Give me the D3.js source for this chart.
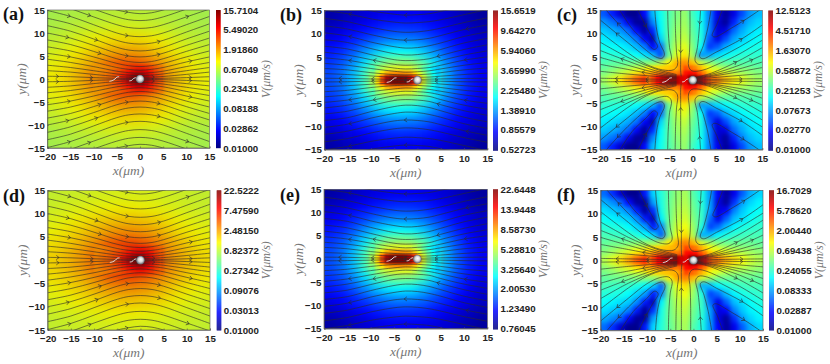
<!DOCTYPE html>
<html lang="en">
<head>
<meta charset="utf-8">
<title>Flow speed maps</title>
<script src="https://d3js.org/d3.v7.min.js"></script>
<style>
body { margin: 0; background: #fff; }
.tick text, .cbar text { font-family: "Liberation Sans", sans-serif; font-weight: bold; font-size: 9.7px; fill: #222; }
.unit { font-family: "Liberation Serif", serif; font-style: italic; font-size: 13.5px; fill: #777; }
.unit.v { font-size: 12px; }
.tag { font-family: "Liberation Serif", serif; font-weight: bold; font-size: 18px; fill: #111; }
</style>
</head>
<body>
<script>
// Tick labels
var xTicks = [-20, -15, -10, -5, 0, 5, 10, 15];
var yTicks = [-15, -10, -5, 0, 5, 10, 15];
var cbarA = ["15.7104", "5.49020", "1.91860", "0.67049", "0.23431", "0.08188", "0.02862", "0.01000"];
var cbarB = ["15.6519", "9.64270", "5.94060", "3.65990", "2.25480", "1.38910", "0.85579", "0.52723"];
var cbarC = ["12.5123", "4.51710", "1.63070", "0.58872", "0.21253", "0.07673", "0.02770", "0.01000"];
var cbarD = ["22.5222", "7.47590", "2.48150", "0.82372", "0.27342", "0.09076", "0.03013", "0.01000"];
var cbarE = ["22.6448", "13.9448", "8.58730", "5.28810", "3.25640", "2.00530", "1.23490", "0.76045"];
var cbarF = ["16.7029", "5.78620", "2.00440", "0.69438", "0.24055", "0.08333", "0.02887", "0.01000"];

// Cell centres of the speed maps (upper half, the maps are symmetric about y = 0)
var gridXs = [-18.75, -16.25, -13.75, -11.25, -8.75, -6.25, -3.75, -1.25, 1.25, 3.75, 6.25, 8.75, 11.25, 13.75];
var gridYs = [13.75, 11.25, 8.75, 6.25, 3.75, 1.25];
var fineXs = [-19.125, -17.375, -15.625, -13.875, -12.125, -10.375, -8.625, -6.875, -5.125, -3.375, -1.625, 0.125, 1.875, 3.625, 5.375, 7.125, 8.875, 10.625, 12.375, 14.125];
var fineYs = [14.125, 12.375, 10.625, 8.875, 7.125, 5.375, 3.625, 1.875, 0.125];
var coreXs = [-9.5, -8.5, -7.5, -6.5, -5.5, -4.5, -3.5, -2.5, -1.5, -0.5, 0.5, 1.5, 2.5, 3.5, 4.5];
var coreYs = [2.5, 1.5, 0.5];

// Speed V
var gridA = [
  [.56, .58, .6, .62, .64, .66, .67, .67, .66, .64, .62, .6, .58, .56],
  [.6, .64, .68, .72, .76, .8, .82, .82, .78, .75, .7, .65, .62, .59],
  [.68, .74, .82, .92, 1.02, 1.12, 1.16, 1.16, 1.1, 1.0, .88, .78, .7, .66],
  [.78, .88, 1.0, 1.18, 1.4, 1.6, 1.75, 1.75, 1.6, 1.35, 1.1, .92, .82, .74],
  [.92, 1.04, 1.25, 1.55, 2.0, 2.6, 3.0, 3.0, 2.6, 2.0, 1.5, 1.2, .98, .85],
  [1.02, 1.2, 1.5, 1.95, 2.7, 3.9, 6.5, 7.5, 4.6, 2.8, 1.9, 1.4, 1.12, .95]
];
var coreA = [
  [1.9, 2, 2.2, 2.4, 2.6, 2.9, 3.4, 3.9, 4.4, 4.8, 4.8, 4.3, 3.7, 3, 2.5],
  [2, 2.2, 2.4, 2.7, 3.1, 3.6, 4.4, 5.4, 7, 8, 8, 6.5, 5, 3.7, 2.9],
  [2.1, 2.3, 2.6, 2.9, 3.4, 4.2, 5.4, 8, 12, 15, 15, 9.5, 6, 4.1, 3.2]
];
var gridB = [
  [.6, .63, .66, .70, .74, .77, .78, .78, .76, .73, .69, .65, .61, .58],
  [.66, .70, .75, .81, .87, .92, .94, .93, .9, .84, .77, .71, .66, .62],
  [.75, .80, .88, .98, 1.1, 1.2, 1.24, 1.22, 1.14, 1.0, .89, .79, .72, .67],
  [.85, .92, 1.05, 1.27, 1.55, 1.78, 1.85, 1.8, 1.55, 1.26, 1.03, .88, .77, .7],
  [.95, 1.05, 1.28, 1.7, 2.4, 2.9, 3.05, 2.95, 2.4, 1.7, 1.25, 1, .84, .74],
  [1.02, 1.15, 1.5, 2.3, 3.9, 5.8, 6.3, 5.8, 4.2, 2.4, 1.45, 1.07, .88, .78]
];
var coreB = [
  [2.3, 2.9, 3.3, 3.6, 3.8, 3.9, 3.9, 3.9, 3.8, 3.4, 2.9, 2.4, 2, 1.7, 1.5],
  [2.8, 3.7, 4.7, 5.7, 6.2, 6.4, 6.4, 6.2, 5.9, 4.9, 3.9, 3.1, 2.4, 1.9, 1.6],
  [3.3, 4.9, 8, 13, 15, 15.5, 15.5, 15, 13, 9.5, 5.5, 3.7, 2.7, 2.1, 1.7]
];
var gridC = [
  [.045, .03, .018, .011, .011, .025, .09, .16, .25, .35, .42, .22, .15, .06, .022, .012, .02, .04, .07, .09],
  [.07, .055, .04, .022, .012, .012, .06, .15, .26, .38, .45, .25, .16, .06, .018, .012, .03, .06, .09, .11],
  [.1, .085, .07, .05, .025, .012, .03, .14, .27, .42, .5, .27, .17, .06, .018, .02, .05, .08, .11, .13],
  [.13, .115, .1, .08, .055, .025, .014, .11, .28, .46, .58, .3, .18, .045, .02, .04, .075, .1, .13, .15],
  [.16, .15, .14, .12, .09, .06, .025, .05, .3, .55, .72, .35, .15, .035, .045, .08, .11, .14, .16, .17],
  [.2, .19, .18, .17, .15, .12, .09, .04, .3, .7, 1.0, .42, .07, .08, .11, .14, .17, .19, .2, .2],
  [.25, .27, .28, .3, .33, .36, .38, .5, .9, 1.5, 2, 1.3, .6, .42, .32, .28, .27, .26, .26, .25],
  [.32, .38, .48, .6, .78, 1.0, 1.25, 1.5, 1.7, 2, 2.5, 3, 1.9, 1.05, .75, .6, .48, .42, .38, .34],
  [.45, .65, 1.0, 1.6, 2.8, 4.2, 7, 9, 9, 7, 6, 12, 9, 4, 2.2, 1.4, 1, .75, .55, .45]
];
var coreC = [
  [.85, .95, 1.05, 1.15, 1.2, 1.3, 1.4, 1.9, 3, 2.5, 2, 1.5, 1.1, .8, .6],
  [1.4, 1.7, 2, 2.2, 2.3, 2.3, 2.1, 2.5, 4.5, 5, 4.5, 3, 2, 1.3, 1],
  [2.2, 3.2, 5, 7, 8, 9, 9, 7, 6, 11, 12, 8, 5, 3, 2.2]
];
var gridD = [
  [.87, .9, .93, .96, 1, 1.02, 1.04, 1.04, 1.02, 1, .96, .93, .9, .87],
  [.93, 1, 1.05, 1.12, 1.18, 1.24, 1.27, 1.27, 1.21, 1.16, 1.08, 1, .96, .91],
  [1.05, 1.15, 1.28, 1.42, 1.58, 1.73, 1.8, 1.8, 1.7, 1.55, 1.36, 1.2, 1.08, 1.02],
  [1.2, 1.36, 1.55, 1.83, 2.17, 2.48, 2.7, 2.7, 2.48, 2.1, 1.7, 1.42, 1.27, 1.15],
  [1.42, 1.6, 1.94, 2.4, 3.1, 4, 4.7, 4.7, 4, 3.1, 2.3, 1.86, 1.52, 1.32],
  [1.58, 1.86, 2.3, 3, 4.2, 6.1, 10, 11.6, 7.1, 4.3, 2.95, 2.17, 1.74, 1.47]
];
var coreD = [
  [2.8, 2.9, 3.2, 3.5, 3.9, 4.3, 5, 5.7, 6.4, 7, 7, 6.3, 5.5, 4.5, 3.8],
  [2.9, 3.2, 3.5, 3.9, 4.5, 5.2, 6.3, 7.7, 9.8, 11, 11, 9, 7, 5.3, 4.2],
  [3.1, 3.4, 3.8, 4.2, 4.9, 6, 7.7, 11, 17, 21, 21, 13, 8.4, 5.9, 4.6]
];
var gridE = [
  [.86, .9, .95, 1.0, 1.06, 1.1, 1.12, 1.12, 1.09, 1.05, 1.0, .94, .88, .84],
  [.95, 1.0, 1.08, 1.17, 1.25, 1.32, 1.35, 1.34, 1.3, 1.21, 1.11, 1.02, .95, .89],
  [1.08, 1.15, 1.27, 1.41, 1.58, 1.73, 1.79, 1.76, 1.64, 1.44, 1.28, 1.14, 1.04, .96],
  [1.22, 1.32, 1.51, 1.83, 2.23, 2.56, 2.66, 2.6, 2.23, 1.81, 1.48, 1.27, 1.11, 1.0],
  [1.37, 1.51, 1.84, 2.45, 3.46, 4.2, 4.4, 4.25, 3.46, 2.45, 1.8, 1.44, 1.21, 1.07],
  [1.47, 1.66, 2.16, 3.3, 5.6, 8.4, 9.1, 8.4, 6.05, 3.46, 2.09, 1.54, 1.27, 1.12]
];
var coreE = [
  [3.4, 4.2, 4.8, 5.2, 5.5, 5.6, 5.6, 5.6, 5.5, 4.9, 4.2, 3.5, 2.9, 2.5, 2.2],
  [4.1, 5.3, 6.8, 8.2, 8.9, 9.2, 9.2, 8.9, 8.5, 7.1, 5.6, 4.5, 3.5, 2.8, 2.3],
  [4.8, 7.1, 11.6, 19, 21.8, 22.5, 22.5, 21.8, 19, 13.8, 8, 5.3, 3.9, 3, 2.5]
];
var gridF = [
  [.055, .035, .018, .011, .011, .03, .12, .21, .33, .47, .56, .29, .2, .08, .025, .012, .022, .05, .09, .12],
  [.09, .07, .05, .025, .012, .012, .08, .2, .35, .5, .6, .33, .21, .08, .02, .012, .035, .08, .12, .15],
  [.13, .11, .09, .065, .03, .012, .035, .19, .36, .56, .67, .36, .23, .08, .02, .025, .065, .11, .15, .17],
  [.17, .15, .13, .11, .07, .03, .015, .15, .37, .61, .77, .4, .24, .055, .022, .05, .1, .13, .17, .2],
  [.21, .2, .19, .16, .12, .08, .03, .065, .4, .73, .96, .47, .2, .04, .055, .1, .15, .19, .21, .23],
  [.27, .25, .24, .23, .2, .16, .12, .05, .4, .93, 1.33, .56, .09, .1, .15, .19, .23, .25, .27, .27],
  [.33, .36, .37, .4, .44, .48, .5, .66, 1.2, 2, 2.7, 1.73, .8, .56, .42, .37, .36, .35, .35, .33],
  [.42, .5, .64, .8, 1.04, 1.33, 1.66, 2, 2.26, 2.7, 3.3, 4, 2.5, 1.4, 1, .8, .64, .56, .5, .45],
  [.6, .86, 1.33, 2.1, 3.7, 5.6, 9.3, 12, 12, 9.3, 8, 16, 12, 5.3, 2.9, 1.86, 1.33, 1, .73, .6]
];
var coreF = [
  [1.13, 1.26, 1.4, 1.53, 1.6, 1.73, 1.86, 2.5, 4, 3.3, 2.7, 2, 1.46, 1.06, .8],
  [1.86, 2.26, 2.7, 2.9, 3.06, 3.06, 2.8, 3.3, 6, 6.7, 6, 4, 2.7, 1.7, 1.33],
  [2.9, 4.3, 6.7, 9.3, 10.6, 12, 12, 9.3, 8, 14.6, 16, 10.6, 6.7, 4, 2.9]
];

// Streamlines, upper half. Rows of y at streamXs for the (a,d) and (b,e) families
var streamXs = [-20, -15, -10, -5, -2.5, 0, 2.5, 5, 10, 15];
var linesAD = [
  [20, 18, 16.5, 15, 14.5, 14.2, 14.4, 15, 16.5, 18],
  [18.5, 17, 15.2, 13.5, 12.9, 12.7, 12.9, 13.5, 15.2, 17],
  [17, 15.3, 13.5, 11.8, 11.2, 11, 11.2, 11.8, 13.5, 15.2],
  [14.9, 13.6, 11.8, 10, 9.4, 9.2, 9.4, 10, 11.8, 13.6],
  [13.2, 12, 10.2, 8.4, 7.8, 7.6, 7.8, 8.4, 10.2, 12],
  [11.6, 10.4, 8.7, 6.9, 6.3, 6.1, 6.3, 6.9, 8.7, 10.4],
  [10, 8.9, 7.3, 5.6, 5, 4.8, 5, 5.6, 7.3, 8.9],
  [8.5, 7.5, 6, 4.4, 3.8, 3.6, 3.8, 4.4, 6, 7.5],
  [7, 6.1, 4.8, 3.4, 2.9, 2.7, 2.9, 3.4, 4.8, 6.1],
  [5.6, 4.8, 3.7, 2.5, 2.1, 1.9, 2.1, 2.5, 3.7, 4.8],
  [4.3, 3.6, 2.7, 1.7, 1.4, 1.25, 1.4, 1.7, 2.7, 3.6],
  [3, 2.5, 1.8, 1.1, .85, .75, .85, 1.1, 1.8, 2.5],
  [1.8, 1.5, 1, .55, .4, .35, .4, .55, 1, 1.5],
  [.6, .5, .3, .15, .1, .1, .1, .15, .3, .5]
];
var linesBE = [
  [16.5, 15.8, 14.9, 14.2, 14, 14.1, 14.3, 14.8, 15.8, 16.8],
  [15, 14.3, 13.2, 12.5, 12.3, 12.4, 12.6, 13, 14.1, 15.2],
  [13.3, 12.6, 11.4, 10.5, 10.3, 10.4, 10.7, 11.2, 12.4, 13.4],
  [11.7, 11, 9.8, 8.8, 8.6, 8.7, 9, 9.6, 10.9, 11.9],
  [10.2, 9.5, 8.2, 7.2, 6.9, 7, 7.4, 8, 9.4, 10.4],
  [8.7, 8.1, 6.8, 5.7, 5.4, 5.5, 5.9, 6.6, 8, 9],
  [7.3, 6.7, 5.5, 4.4, 4.2, 4.3, 4.6, 5.3, 6.6, 7.6],
  [6, 5.4, 4.4, 3.4, 3.2, 3.3, 3.5, 4.2, 5.4, 6.3],
  [4.8, 4.3, 3.4, 2.6, 2.4, 2.5, 2.7, 3.2, 4.3, 5],
  [3.6, 3.2, 2.5, 1.9, 1.7, 1.8, 2, 2.4, 3.2, 3.8],
  [2.5, 2.2, 1.6, 1.2, 1.1, 1.15, 1.3, 1.6, 2.2, 2.6],
  [1.4, 1.2, .9, .6, .55, .6, .65, .85, 1.2, 1.5],
  [.4, .35, .25, .15, .15, .15, .2, .25, .35, .4]
];
// (c,f) family: [x, y] points in flow direction
var linesCF = [
  [[-8.2, 15.5], [-7.8, 11], [-7.1, 8], [-6.1, 5.6], [-6.6, 4.7], [-8, 5], [-10, 6.4], [-14, 10], [-18, 14.3], [-19, 15.5]],
  [[-12, 15.5], [-10.3, 12], [-8.8, 9.3], [-7.6, 7.2], [-8.3, 6.6], [-10.3, 8.4], [-13, 11], [-16, 15.5]],
  [[-5.4, 15.5], [-5.3, 11], [-5, 7], [-4.6, 4.5], [-5.3, 3.6], [-7.2, 3.7], [-10, 5], [-14, 8.1], [-20, 13]],
  [[-3.8, 15.5], [-3.7, 10], [-3.5, 6], [-3.3, 3.2], [-4.2, 2.2], [-6.5, 2.2], [-10, 3.4], [-14, 5.9], [-20, 10.4]],
  [[-3.5, .2], [-8, .2], [-14, .3], [-20, .4]],
  [[-3.5, .4], [-8, .8], [-14, 1.3], [-20, 1.9]],
  [[-3.5, .6], [-8, 1.2], [-14, 2.3], [-20, 3.4]],
  [[-3.5, .8], [-8, 1.6], [-14, 3.2], [-20, 4.9]],
  [[-3.5, 1], [-8, 2], [-14, 4.1], [-20, 6.4]],
  [[-3.5, 1.2], [-8, 2.4], [-14, 4.9], [-20, 8.2]],
  [[-2.6, 15.5], [-2.6, 10], [-2.6, 5], [-2.6, 2], [-2.5, .8]],
  [[4, 15.5], [3.2, 11], [2.3, 7.5], [1.5, 5], [2.2, 4.6], [5, 6], [10.6, 8.9], [15, 11.9]],
  [[6.5, 15.5], [5.2, 12], [4.2, 9.6], [4.8, 9.3], [8, 11], [11.6, 13.2], [15, 15.5]],
  [[1.7, 15.5], [1.4, 11], [1, 7], [.5, 4.2], [1.2, 3.4], [3, 3.6], [6, 5], [10, 7.1], [15, 10.1]],
  [[-.6, 15.5], [-.6, 10], [-.7, 6], [-.9, 3], [-.2, 2], [2, 2.1], [6, 3.7], [10, 5.6], [15, 8.6]],
  [[.5, .1], [4, .15], [10, .25], [15, .3]],
  [[.5, .2], [4, .5], [10, 1], [15, 1.4]],
  [[.5, .3], [4, .8], [10, 1.8], [15, 2.7]],
  [[.5, .4], [4, 1], [10, 2.4], [15, 3.9]],
  [[.5, .5], [4, 1.25], [10, 3.2], [15, 5.4]],
  [[.5, .6], [4, 1.5], [10, 4.2], [15, 7]]
];
// Arrow places: [line index, fraction along the line]
var arrowsAD = [[3, .14], [0, .5], [2, .27], [3, .5], [4, .69], [6, .13], [5, .31], [7, .33], [9, .14], [9, .89], [6, .69], [6, .5], [13, .07], [13, .28], [12, .66], [13, .89], [2, .87]];
var arrowsBE = [[1, .15], [0, .49], [4, .15], [3, .49], [6, .69], [7, .3], [8, .15], [12, .09], [12, .29], [12, .49], [12, .68], [8, .86], [3, .87]];
var arrowsCF = [[0, .85], [1, .2], [10, .05], [10, .65], [8, .72], [4, .8], [4, .4], [2, .85], [12, .75], [11, .8], [19, .85], [20, .6], [15, .7], [13, .12], [6, .45]];

// Swimmer tail drawn in every panel
var tailParts = [
  [[-6.6, -.5], [-6, -.35], [-5.4, 0], [-5, .4], [-4.5, .5]],
  [[-2.3, -.4], [-1.8, -.3], [-1.4, .1], [-.9, .3]]
];

var adPaths = linesAD.map(function(r) { return r.map(function(y, i) { return [streamXs[i], y]; }); });
var bePaths = linesBE.map(function(r) { return r.map(function(y, i) { return [streamXs[i], y]; }); });

var coarse = {xs: gridXs, ys: gridYs, half: 1.25, blur: "soft"};
var fine = {xs: fineXs, ys: fineYs, half: 0.875, blur: "softFine"};

var panels = [
  {tag: "(a)", grid: gridA, mesh: coarse, dim: 0.07, core: coreA, cbar: cbarA, lines: adPaths, arrows: arrowsAD, dir: 1, x: [47.3, 209.5], y: [10, 148], bar: [216, 220.7], tagX: 3, tagY: 20},
  {tag: "(b)", grid: gridB, mesh: coarse, dim: 0, core: coreB, cbar: cbarB, lines: bePaths, arrows: arrowsBE, dir: -1, x: [324.3, 487.3], y: [10.5, 149.7], bar: [493, 498], tagX: 280, tagY: 21},
  {tag: "(c)", grid: gridC, mesh: fine, dim: 0, core: coreC, cbar: cbarC, lines: linesCF, arrows: arrowsCF, dir: 1, x: [600, 762.3], y: [10.5, 149.7], bar: [768.3, 773], tagX: 557, tagY: 21},
  {tag: "(d)", grid: gridD, mesh: coarse, dim: 0.07, core: coreD, cbar: cbarD, lines: adPaths, arrows: arrowsAD, dir: 1, x: [47.7, 210], y: [190.3, 330], bar: [216.7, 221.3], tagX: 3, tagY: 202},
  {tag: "(e)", grid: gridE, mesh: coarse, dim: 0, core: coreE, cbar: cbarE, lines: bePaths, arrows: arrowsBE, dir: -1, x: [324, 487.3], y: [189.3, 328.7], bar: [493, 498], tagX: 280, tagY: 201},
  {tag: "(f)", grid: gridF, mesh: fine, dim: 0, core: coreF, cbar: cbarF, lines: linesCF, arrows: arrowsCF, dir: 1, x: [600.7, 763], y: [190.3, 330.3], bar: [769, 774], tagX: 557, tagY: 201}
];

var jet = d3.piecewise(d3.interpolateRgb, ["#000080", "#0000ff", "#0080ff", "#00ffff", "#80ff80", "#ffff00", "#ff8000", "#ff0000", "#800000"]);

var svg = d3.select("body").append("svg").attr("width", 830).attr("height", 364).style("display", "block");
var defs = svg.append("defs");

function blur(id, dev) {
  defs.append("filter").attr("id", id)
    .attr("filterUnits", "userSpaceOnUse")
    .attr("x", 0).attr("y", 0).attr("width", 830).attr("height", 364)
    .attr("color-interpolation-filters", "sRGB")
    .append("feGaussianBlur").attr("stdDeviation", dev);
}
blur("soft", 4.2);
blur("softFine", 2.5);
blur("softCore", 1.15);
blur("softLine", 0.4);

var ball = defs.append("radialGradient").attr("id", "ball").attr("fx", 0.55).attr("fy", 0.4);
ball.append("stop").attr("offset", "0%").attr("stop-color", "#ffffff");
ball.append("stop").attr("offset", "55%").attr("stop-color", "#d5d5d5");
ball.append("stop").attr("offset", "100%").attr("stop-color", "#5c5c66");

var curve = d3.line().curve(d3.curveCatmullRom.alpha(0.5));

panels.forEach(function(p, n) {
  var x = d3.scaleLinear().domain([-20, 15]).range(p.x);
  var y = d3.scaleLinear().domain([15, -15]).range(p.y);
  var vMax = +p.cbar[0], vMin = +p.cbar[p.cbar.length - 1];
  var color = d3.scaleSequentialLog(jet).domain([vMin, vMax]);

  defs.append("clipPath").attr("id", "frame" + n).append("rect")
    .attr("x", p.x[0]).attr("y", p.y[0])
    .attr("width", p.x[1] - p.x[0]).attr("height", p.y[1] - p.y[0]);

  var plot = svg.append("g").attr("clip-path", "url(#frame" + n + ")");

  // Speed map: mirrored rows, blurred so the cells read as a smooth field
  function cells(xs, ys, rows, half) {
    var out = [];
    [1, -1].forEach(function(sign) {
      ys.forEach(function(gy, r) {
        xs.forEach(function(gx, c) {
          out.push({x: gx, y: sign * gy, v: rows[r][c], half: half,
            left: c === 0, right: c === xs.length - 1, edge: r === 0});
        });
      });
    });
    return out;
  }
  function drawCells(g, data, extend) {
    g.selectAll("rect").data(data).enter().append("rect")
      .attr("x", function(d) { return x(d.x - d.half) - (extend && d.left ? 14 : 0) - 0.3; })
      .attr("y", function(d) { return y(d.y + d.half) - (extend && d.edge && d.y > 0 ? 14 : 0) - 0.3; })
      .attr("width", function(d) { return x(d.half * 2) - x(0) + (extend && (d.left || d.right) ? 14 : 0) + 0.6; })
      .attr("height", function(d) { return y(-d.half * 2) - y(0) + (extend && d.edge ? 14 : 0) + 0.6; })
      .attr("fill", function(d) { return color(d.v); });
  }
  drawCells(plot.append("g").attr("filter", "url(#" + p.mesh.blur + ")"), cells(p.mesh.xs, p.mesh.ys, p.grid, p.mesh.half), true);
  drawCells(plot.append("g").attr("filter", "url(#softCore)"), cells(coreXs, coreYs, p.core, 0.5), false);
  if (p.dim) {
    plot.append("rect").attr("x", p.x[0]).attr("y", p.y[0])
      .attr("width", p.x[1] - p.x[0]).attr("height", p.y[1] - p.y[0])
      .attr("fill", "#000").attr("fill-opacity", p.dim);
  }

  // Streamlines and their arrows
  var flow = plot.append("g").attr("filter", "url(#softLine)")
    .attr("fill", "none").attr("stroke", "#2b2b2b").attr("stroke-opacity", 0.68);
  [1, -1].forEach(function(sign) {
    var paths = p.lines.map(function(pts) {
      return flow.append("path").attr("stroke-width", 0.9)
        .attr("d", curve(pts.map(function(q) { return [x(q[0]), y(sign * q[1])]; })));
    });
    p.arrows.forEach(function(a) {
      var node = paths[a[0]].node();
      var at = node.getTotalLength() * a[1];
      var c = node.getPointAtLength(at);
      var b0 = node.getPointAtLength(at - 1);
      var b1 = node.getPointAtLength(at + 1);
      var angle = Math.atan2(b1.y - b0.y, b1.x - b0.x) * 180 / Math.PI + (p.dir < 0 ? 180 : 0);
      flow.append("path").attr("stroke-width", 0.9)
        .attr("transform", "translate(" + c.x + "," + c.y + ") rotate(" + angle + ")")
        .attr("d", "M-2.8,-2.1L0,0L-2.8,2.1");
    });
  });

  // Swimmer
  tailParts.forEach(function(t) {
    plot.append("path").attr("fill", "none").attr("stroke", "#e4e4e4").attr("stroke-width", 1)
      .attr("d", curve(t.map(function(q) { return [x(q[0]), y(q[1])]; })));
  });
  plot.append("circle").attr("cx", x(0)).attr("cy", y(0)).attr("r", 4.3).attr("fill", "url(#ball)");

  // Axes
  var xAxis = d3.axisBottom(x).tickValues(xTicks).tickSize(-1.5).tickPadding(5);
  var yAxis = d3.axisLeft(y).tickValues(yTicks).tickSize(-1.5).tickPadding(2.5);
  svg.append("g").attr("transform", "translate(0," + p.y[1] + ")").call(xAxis);
  svg.append("g").attr("transform", "translate(" + p.x[0] + ",0)").call(yAxis);
  svg.selectAll(".domain, .tick line").attr("stroke", "#555").attr("stroke-width", 0.6);
  svg.append("rect").attr("x", p.x[0]).attr("y", p.y[0])
    .attr("width", p.x[1] - p.x[0]).attr("height", p.y[1] - p.y[0])
    .attr("fill", "none").attr("stroke", "#555").attr("stroke-width", 0.6);

  // Colour bar, one strip per pixel row
  var barScale = d3.scaleLog().domain([vMax, vMin]).range(p.y);
  var bar = svg.append("g").attr("class", "cbar");
  bar.selectAll("rect").data(d3.range(p.y[0], p.y[1], 1)).enter().append("rect")
    .attr("x", p.bar[0]).attr("y", function(d) { return d; })
    .attr("width", p.bar[1] - p.bar[0]).attr("height", 1.2)
    .attr("fill", function(d) { return color(barScale.invert(d + 0.5)); });
  var barAxis = d3.axisRight(barScale).tickValues(p.cbar.map(Number))
    .tickFormat(function(d, i) { return p.cbar[i]; }).tickSize(0).tickPadding(2.5);
  bar.append("g").attr("transform", "translate(" + p.bar[1] + ",0)").call(barAxis)
    .call(function(g) { g.select(".domain").remove(); });

  // Labels
  var midX = (p.x[0] + p.x[1]) / 2, midY = (p.y[0] + p.y[1]) / 2;
  svg.append("text").attr("class", "unit").attr("text-anchor", "middle")
    .attr("x", midX).attr("y", p.y[1] + 27).text("x(μm)");
  svg.append("text").attr("class", "unit").attr("text-anchor", "middle")
    .attr("transform", "translate(" + (p.x[0] - 21) + "," + midY + ") rotate(-90)").text("y(μm)");
  svg.append("text").attr("class", "unit v").attr("text-anchor", "middle")
    .attr("transform", "translate(" + (p.bar[1] + 49) + "," + midY + ") rotate(-90)").text("V(μm/s)");
  svg.append("text").attr("class", "tag").attr("x", p.tagX).attr("y", p.tagY).text(p.tag);
});
</script>
</body>
</html>
